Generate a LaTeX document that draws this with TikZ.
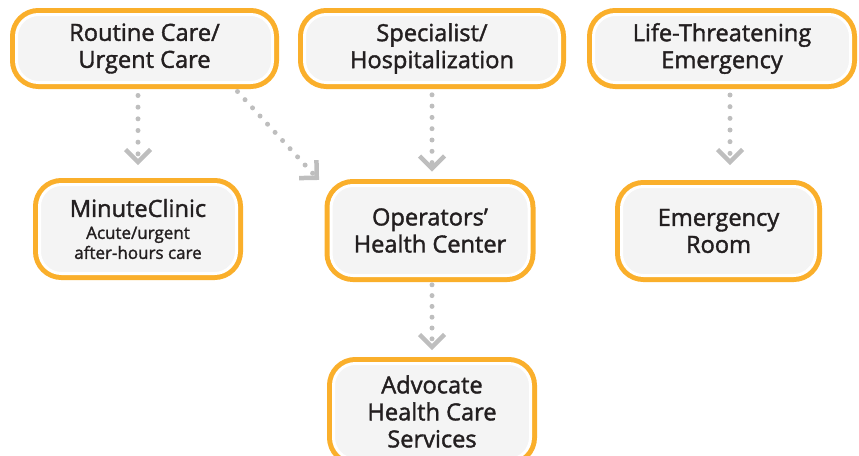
\documentclass[tikz,border=0pt]{standalone}
\usepackage{fontspec}
\setmainfont[Ligatures=NoCommon,FakeBold=1.6,UprightFeatures={FakeBold=1.6}]{Open Sans}
\usetikzlibrary{calc,decorations.markings}
\definecolor{boxorange}{HTML}{FAAF2B}
\definecolor{boxfill}{HTML}{F4F4F4}
\definecolor{arrowgray}{HTML}{BEBEBE}
\definecolor{textdark}{HTML}{231F20}
\tikzset{
  box/.style={rectangle, rounded corners=22pt, fill=boxfill, draw=white, line width=3pt,
    preaction={draw=boxorange, line width=13pt}, text=textdark, align=center,
    inner sep=0pt, font=\fontsize{23.6}{27}\selectfont},
  chevron/.style={solid, draw=arrowgray, line width=4.5pt, line cap=butt, line join=miter},
  flow/.style 2 args={draw=arrowgray, line width=5pt, line cap=round, dash pattern=on 0pt off #1pt,
    postaction={decorate, decoration={markings, mark=at position 1 with
      {\draw[chevron, rotate=#2] (-12.5pt,12.5pt) -- (0pt,0pt) -- (-12.5pt,-12.5pt);}}}},
}
\begin{document}
\begin{tikzpicture}[x=1pt,y=-1pt]
\useasboundingbox (0,0) rectangle (859,455);
\clip (0,0) rectangle (859,455);
\node[box, minimum width=256pt, minimum height=68pt] (r1) at (144.5,48.5) {Routine Care/\\Urgent Care};
\node[box, minimum width=255pt, minimum height=68pt] (sp) at (432,48.5) {Specialist/\\Hospitalization};
\node[box, minimum width=257pt, minimum height=68pt] (lt) at (722,48.5) {Life-Threatening\\Emergency};
\node[box, minimum width=197pt, minimum height=89pt, font=\fontsize{17}{20}\selectfont] (m) at (138,229)
  {{\fontsize{23.6}{27}\selectfont MinuteClinic}\\[2pt]Acute/urgent\\after-hours care};
\node[box, minimum width=198pt, minimum height=90pt] (op) at (430,230.5) {Operators’\\Health Center};
\node[box, minimum width=197pt, minimum height=96pt] (adv) at (432,411.5) {Advocate\\Health Care\\Services};
\node[box, minimum width=194pt, minimum height=89pt] (er) at (718.5,231) {Emergency\\Room};
% connectors
\draw[flow={11.67}{0}] ($(m.north |- r1.south)+(0,11.5)$) -- ($(m.north)+(0,-21)$);
\draw[flow={11.1}{3.5}] ($(r1.south)+(93,7.5)$) -- ($(op.north west)+(-12.5,-6)$);
\draw[flow={11.3}{0}] ($(sp.south)+(0,10.8)$) -- ($(sp.south |- op.north)+(0,-15.5)$);
\draw[flow={10.8}{0}] ($(adv.north |- op.south)+(0,7.8)$) -- ($(adv.north)+(0,-15)$);
\draw[flow={11.67}{0}] ($(lt.south)+(8,11)$) -- ($(er.north)+(11.5,-23)$);
\end{tikzpicture}
\end{document}
